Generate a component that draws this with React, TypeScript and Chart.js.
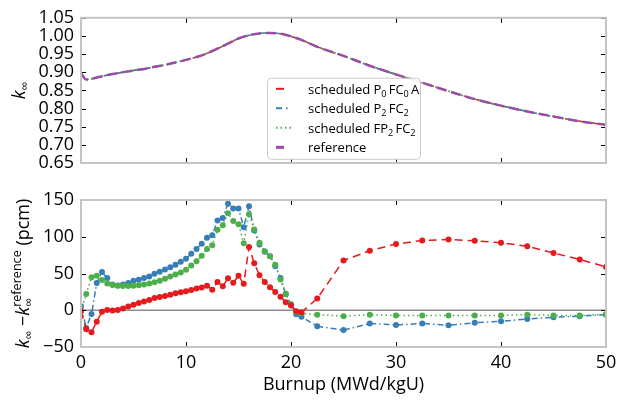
import React, { useEffect, useRef } from 'react';
import { Chart, registerables } from 'chart.js';
Chart.register(...registerables);

// ---------- data ----------
const burnup = [0, 0.5, 1, 1.5, 2, 2.5, 3, 3.5, 4, 4.5, 5, 5.5, 6, 6.5, 7, 7.5, 8, 8.5, 9, 9.5, 10, 10.5, 11, 11.5, 12, 12.5, 13, 13.5, 14, 14.5, 15, 15.5, 16, 16.5, 17, 17.5, 18, 18.5, 19, 19.5, 20, 20.5, 21, 22.5, 25, 27.5, 30, 32.5, 35, 37.5, 40, 42.5, 45, 47.5, 50];

const diffP0FC0A = [-1, -26, -30, -15.5, -2, 0.5, -0.5, 0.5, 2.5, 5, 7.5, 10, 12, 14, 16.5, 18, 19.5, 21, 23, 24.5, 26, 27.5, 29.5, 31, 33.5, 28, 38.5, 32.7, 43.5, 37.5, 47, 36, 86, 64, 47.5, 38.6, 31.3, 25, 18.5, 11, 6.5, -1.4, -2.8, 16, 67.7, 81, 90, 95, 96.3, 94.5, 91.8, 87, 78, 69, 59];

const diffP2FC2 = [5.5, -24, -5, 37, 52, 44, 35, 33.6, 35, 37, 40, 41.5, 44, 46, 49.5, 52.5, 55.5, 58.5, 62, 66, 70, 77, 83.5, 90.5, 98.6, 102, 122, 125.5, 145, 138.6, 138.6, 113, 141.5, 108.6, 89.5, 79.5, 73.6, 60, 44, 22, 7.8, -5.5, -9, -21.8, -27, -18, -20, -18, -20.4, -17, -15, -11.8, -9.5, -8, -6];

const diffFP2FC2 = [-1.4, 22, 45, 47, 41, 36.5, 34.5, 33.3, 33, 33, 33.3, 34, 35, 36.5, 38, 40, 43, 46, 48.5, 51.5, 55, 61, 66.5, 74, 83.5, 88.6, 109.5, 115.6, 132, 121.5, 117, 91, 130.5, 110, 91.8, 80.4, 73.6, 62, 42, 22.5, 8, -2.5, -4.5, -6, -8, -6, -7, -7, -7, -7, -7, -6, -7, -7, -5.5];

const refBurnup = [0, 0.5, 1, 2, 3, 4, 5, 6, 7, 8, 9, 10, 11, 12, 13, 14, 15, 16, 17, 18, 19, 20, 21, 22.5, 25, 27.5, 30, 32.5, 35, 37.5, 40, 42.5, 45, 47.5, 50];
const kReference = [0.897, 0.880, 0.882, 0.889, 0.895, 0.900, 0.905, 0.909, 0.915, 0.920, 0.927, 0.934, 0.942, 0.952, 0.965, 0.979, 0.993, 1.002, 1.007, 1.008, 1.006, 0.999, 0.989, 0.970, 0.945, 0.918, 0.894, 0.871, 0.848, 0.826, 0.808, 0.792, 0.778, 0.765, 0.755];

const xTicks = [0, 10, 20, 30, 40, 50];
const kTicks = [0.65, 0.7, 0.75, 0.8, 0.85, 0.9, 0.95, 1.0, 1.05];
const diffTicks = [-50, 0, 50, 100, 150];

const xTitle = 'Burnup (MWd/kgU)';

// ---------- styling ----------
const RED = '#e41a1c';
const BLUE = '#377eb8';
const GREEN = '#4daf4a';
const PURPLE = '#984ea3';
const FAMILY = "'Open Sans', 'DejaVu Sans', sans-serif";
const DASH_RED = [8, 5];
const DASH_BLUE = [6, 3, 1.5, 3];
const DASH_GREEN = [1.5, 3];
const DASH_PURPLE = [10, 5];

type Seg = { t?: string; italic?: boolean; sub?: string; sup?: string };

function fnt(size: number, italic = false) {
  return `${italic ? 'italic ' : ''}${size}px ${FAMILY}`;
}
function segWidth(ctx: CanvasRenderingContext2D, s: Seg, size: number) {
  if (s.t !== undefined) {
    ctx.font = fnt(size, s.italic);
    return ctx.measureText(s.t).width;
  }
  ctx.font = fnt(size * 0.7);
  const w1 = s.sub ? ctx.measureText(s.sub).width : 0;
  const w2 = s.sup ? ctx.measureText(s.sup).width : 0;
  return Math.max(w1, w2);
}
function richWidth(ctx: CanvasRenderingContext2D, segs: Seg[], size: number) {
  return segs.reduce((a, s) => a + segWidth(ctx, s, size), 0);
}
function drawRich(ctx: CanvasRenderingContext2D, segs: Seg[], x: number, y: number, size: number, color: string) {
  ctx.fillStyle = color;
  ctx.textBaseline = 'alphabetic';
  ctx.textAlign = 'left';
  let cx = x;
  for (const s of segs) {
    const w = segWidth(ctx, s, size);
    if (s.t !== undefined) {
      ctx.font = fnt(size, s.italic);
      ctx.fillText(s.t, cx, y);
    } else {
      ctx.font = fnt(size * 0.7);
      if (s.sub) ctx.fillText(s.sub, cx, y + size * 0.22);
      if (s.sup) ctx.fillText(s.sup, cx, y - size * 0.42);
    }
    cx += w;
  }
}

const upperTitle: Seg[] = [{ t: 'k', italic: true }, { sub: '∞' }];
const lowerTitle: Seg[] = [
  { t: 'k', italic: true }, { sub: '∞' }, { t: ' −' },
  { t: 'k', italic: true }, { sub: '∞', sup: 'reference' }, { t: ' (pcm)' },
];

const legendItems = [
  { segs: [{ t: 'scheduled P' }, { sub: '0' }, { t: '\u2009FC' }, { sub: '0' }, { t: '\u2009A' }] as Seg[], color: RED, dash: [8, 40], width: 2 },
  { segs: [{ t: 'scheduled P' }, { sub: '2' }, { t: '\u2009FC' }, { sub: '2' }] as Seg[], color: BLUE, dash: [6, 4, 1.5, 40], width: 2 },
  { segs: [{ t: 'scheduled FP' }, { sub: '2' }, { t: '\u2009FC' }, { sub: '2' }] as Seg[], color: GREEN, dash: [1.5, 3], width: 2 },
  { segs: [{ t: 'reference' }] as Seg[], color: PURPLE, dash: [8, 40], width: 3 },
];

function makeFramePlugin(yTicks: number[], titleSegs: Seg[], titleX: number) {
  return {
    id: 'frameTicks',
    afterDatasetsDraw(chart: any) {
      const { ctx, chartArea: a, scales } = chart;
      const xs = scales.x, ys = scales.y;
      ctx.save();
      ctx.strokeStyle = '#000';
      ctx.lineWidth = 1;
      ctx.setLineDash([]);
      ctx.beginPath();
      for (const v of xTicks) {
        const px = Math.round(xs.getPixelForValue(v)) + 0.5;
        ctx.moveTo(px, a.top); ctx.lineTo(px, a.top + 5);
        ctx.moveTo(px, a.bottom); ctx.lineTo(px, a.bottom - 5);
      }
      for (const v of yTicks) {
        const py = Math.round(ys.getPixelForValue(v)) + 0.5;
        ctx.moveTo(a.left, py); ctx.lineTo(a.left + 5, py);
        ctx.moveTo(a.right, py); ctx.lineTo(a.right - 5, py);
      }
      ctx.stroke();
      ctx.strokeStyle = '#c4c4c4';
      ctx.lineWidth = 2;
      ctx.strokeRect(a.left, a.top, a.right - a.left, a.bottom - a.top);
      ctx.restore();
    },
    afterDraw(chart: any) {
      const { ctx, chartArea: a } = chart;
      ctx.save();
      const size = 18;
      const w = richWidth(ctx, titleSegs, size);
      ctx.translate(titleX, (a.top + a.bottom) / 2);
      ctx.rotate(-Math.PI / 2);
      drawRich(ctx, titleSegs, -w / 2, 0, size, '#000');
      ctx.restore();
    },
  };
}

const legendPlugin = {
  id: 'insideLegend',
  afterDraw(chart: any) {
    const { ctx, chartArea: a } = chart;
    const bx = a.left + 186, by = a.top + 60, bw = 153, bh = 81;
    ctx.save();
    ctx.beginPath();
    (ctx as any).roundRect(bx + 0.5, by + 0.5, bw, bh, 4);
    ctx.fillStyle = 'rgba(255,255,255,0.92)';
    ctx.fill();
    ctx.strokeStyle = '#cccccc';
    ctx.lineWidth = 1;
    ctx.stroke();
    legendItems.forEach((it, i) => {
      const cy = by + 11 + i * 19.5;
      ctx.beginPath();
      ctx.setLineDash(it.dash);
      ctx.strokeStyle = it.color;
      ctx.lineWidth = it.width;
      ctx.moveTo(bx + 9, cy);
      ctx.lineTo(bx + 25, cy);
      ctx.stroke();
      ctx.setLineDash([]);
      drawRich(ctx, it.segs, bx + 41, cy + 5, 13, '#000');
    });
    ctx.restore();
  },
};

const zeroLinePlugin = {
  id: 'zeroLine',
  beforeDatasetsDraw(chart: any) {
    const { ctx, chartArea: a, scales } = chart;
    const y0 = scales.y.getPixelForValue(0);
    ctx.save();
    ctx.strokeStyle = '#8c8c8c';
    ctx.lineWidth = 1.5;
    ctx.beginPath();
    ctx.moveTo(a.left, y0);
    ctx.lineTo(a.right, y0);
    ctx.stroke();
    ctx.restore();
  },
};

function upperSet(label: string, color: string, dash: number[], width: number, order: number) {
  return {
    label,
    data: refBurnup.map((b, i) => ({ x: b, y: kReference[i] })),
    borderColor: color,
    backgroundColor: color,
    borderDash: dash,
    borderWidth: width,
    pointRadius: 0,
    cubicInterpolationMode: 'monotone' as const,
    order,
    clip: 0,
  };
}

function lowerSet(label: string, values: number[], color: string, dash: number[], order: number) {
  return {
    label,
    data: burnup.map((b, i) => ({ x: b, y: values[i] })),
    borderColor: color,
    backgroundColor: color,
    borderDash: dash,
    borderWidth: 1.5,
    pointRadius: 3,
    pointBorderWidth: 0,
    pointBackgroundColor: color,
    order,
    clip: 0,
  };
}

export default function App() {
  const topRef = useRef<HTMLCanvasElement>(null);
  const botRef = useRef<HTMLCanvasElement>(null);

  useEffect(() => {
    document.body.style.margin = '0';
    document.body.style.overflow = 'hidden';
    Chart.defaults.font.family = FAMILY;
    Chart.defaults.color = '#000';

    const top = new Chart(topRef.current as HTMLCanvasElement, {
      type: 'line',
      data: {
        datasets: [
          upperSet('scheduled P0FC0A', RED, DASH_RED, 1.5, 3),
          upperSet('scheduled P2FC2', BLUE, DASH_BLUE, 1.5, 2),
          upperSet('scheduled FP2FC2', GREEN, DASH_GREEN, 1.5, 1),
          upperSet('reference', PURPLE, DASH_PURPLE, 2.5, 0),
        ],
      },
      options: {
        animation: false,
        responsive: false,
        devicePixelRatio: 1,
        layout: { padding: { left: 0, right: 21, top: 15, bottom: 239 } },
        plugins: { legend: { display: false }, tooltip: { enabled: false } },
        scales: {
          x: { type: 'linear', min: 0, max: 50, display: false },
          y: {
            type: 'linear', min: 0.65, max: 1.05,
            grid: { display: false, drawTicks: false },
            border: { display: false },
            afterBuildTicks: (s: any) => { s.ticks = kTicks.map((v) => ({ value: v })); },
            afterFit: (s: any) => { s.width = 81; },
            ticks: {
              autoSkip: false,
              padding: 7,
              font: { size: 18, family: FAMILY },
              color: '#000',
              callback: (v: any) => Number(v).toFixed(2),
            },
          },
        },
      } as any,
      plugins: [makeFramePlugin(kTicks, upperTitle, 25), legendPlugin],
    });

    const bot = new Chart(botRef.current as HTMLCanvasElement, {
      type: 'line',
      data: {
        datasets: [
          lowerSet('scheduled P0FC0A', diffP0FC0A, RED, DASH_RED, 0),
          lowerSet('scheduled P2FC2', diffP2FC2, BLUE, DASH_BLUE, 2),
          lowerSet('scheduled FP2FC2', diffFP2FC2, GREEN, DASH_GREEN, 1),
        ],
      },
      options: {
        animation: false,
        responsive: false,
        devicePixelRatio: 1,
        layout: { padding: { left: 0, right: 21, top: 200, bottom: 0 } },
        plugins: { legend: { display: false }, tooltip: { enabled: false } },
        scales: {
          x: {
            type: 'linear', min: 0, max: 50,
            grid: { display: false, drawTicks: false },
            border: { display: false },
            afterBuildTicks: (s: any) => { s.ticks = xTicks.map((v) => ({ value: v })); },
            afterFit: (s: any) => { s.height = 55; },
            ticks: { autoSkip: false, padding: 5, font: { size: 18, family: FAMILY }, color: '#000', maxRotation: 0 },
            title: { display: true, text: xTitle, font: { size: 18, family: FAMILY }, color: '#000', padding: { top: 0, bottom: 6 } },
          },
          y: {
            type: 'linear', min: -50, max: 150,
            grid: { display: false, drawTicks: false },
            border: { display: false },
            afterBuildTicks: (s: any) => { s.ticks = diffTicks.map((v) => ({ value: v })); },
            afterFit: (s: any) => { s.width = 81; },
            ticks: {
              autoSkip: false,
              padding: 7,
              font: { size: 18, family: FAMILY },
              color: '#000',
              callback: (v: any) => String(v).replace('-', '\u2212'),
            },
          },
        },
      } as any,
      plugins: [zeroLinePlugin, makeFramePlugin(diffTicks, lowerTitle, 29)],
    });

    return () => {
      top.destroy();
      bot.destroy();
    };
  }, []);

  return (
    <div style={{ position: 'relative', width: 627, height: 402 }}>
      <canvas ref={topRef} width={627} height={402} style={{ position: 'absolute', left: 0, top: 0 }} />
      <canvas ref={botRef} width={627} height={402} style={{ position: 'absolute', left: 0, top: 0 }} />
    </div>
  );
}
